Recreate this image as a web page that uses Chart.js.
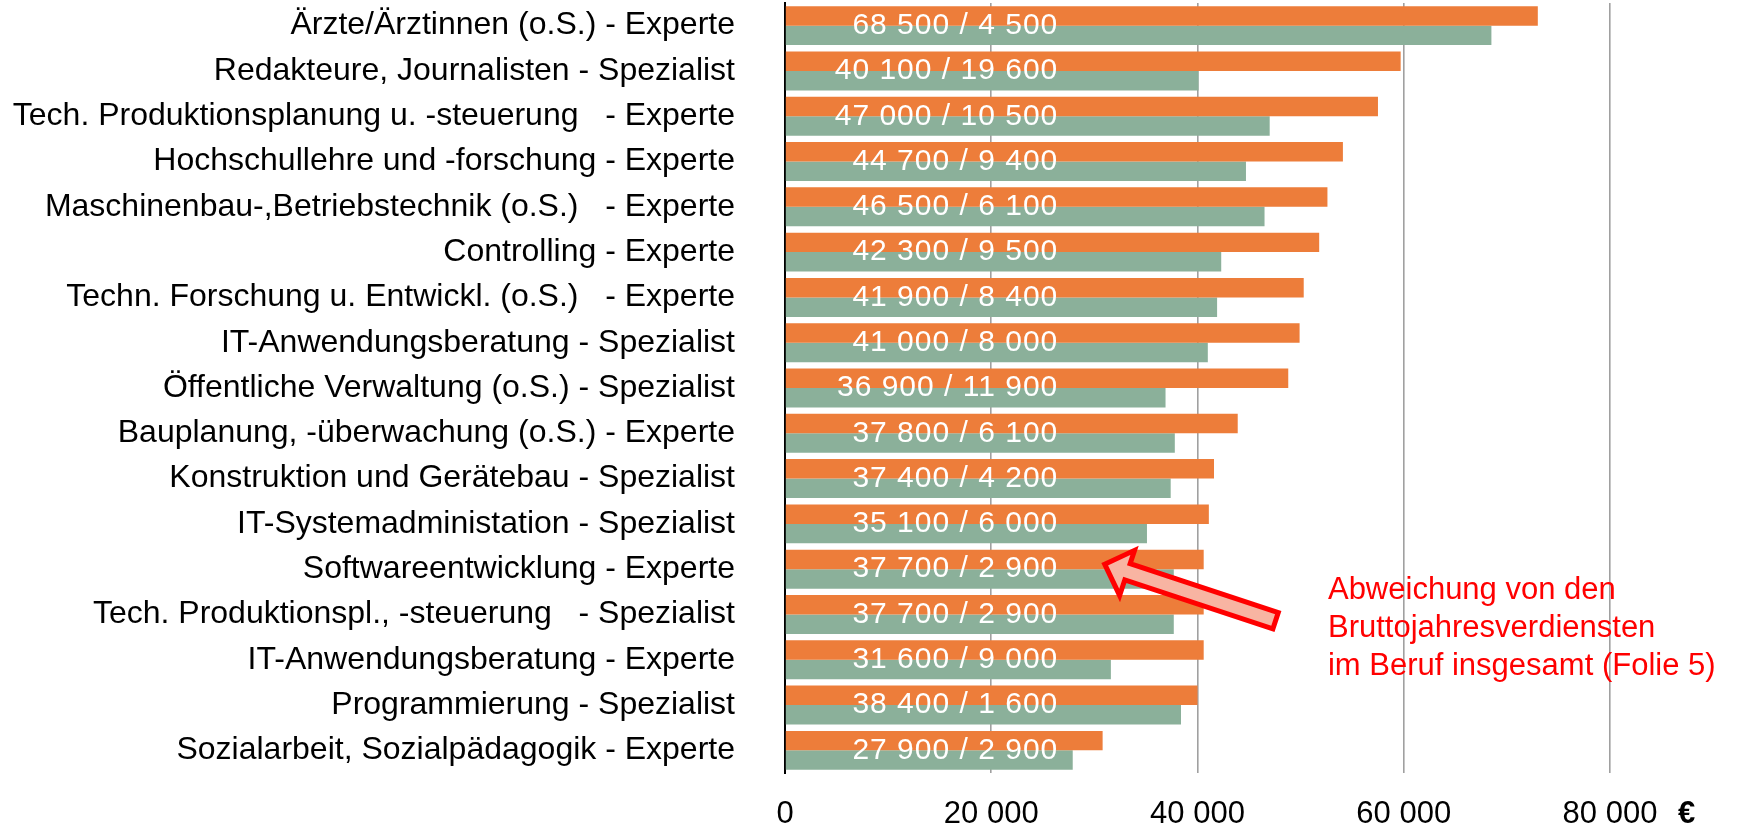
<!DOCTYPE html>
<html>
<head>
<meta charset="utf-8">
<script src="https://cdn.jsdelivr.net/npm/chart.js@4.4.1/dist/chart.umd.min.js"></script>
<style>
  html, body { margin: 0; padding: 0; background: #ffffff; }
  #wrap { width: 1737px; height: 825px; position: relative; }
</style>
</head>
<body>
<div id="wrap"><canvas id="c" width="1737" height="825"></canvas></div>
<script>
// ---- Data ----
const categories = [
  "Ärzte/Ärztinnen (o.S.) - Experte",
  "Redakteure, Journalisten - Spezialist",
  "Tech. Produktionsplanung u. -steuerung   - Experte",
  "Hochschullehre und -forschung - Experte",
  "Maschinenbau-,Betriebstechnik (o.S.)   - Experte",
  "Controlling - Experte",
  "Techn. Forschung u. Entwickl. (o.S.)   - Experte",
  "IT-Anwendungsberatung - Spezialist",
  "Öffentliche Verwaltung (o.S.) - Spezialist",
  "Bauplanung, -überwachung (o.S.) - Experte",
  "Konstruktion und Gerätebau - Spezialist",
  "IT-Systemadministation - Spezialist",
  "Softwareentwicklung - Experte",
  "Tech. Produktionspl., -steuerung   - Spezialist",
  "IT-Anwendungsberatung - Experte",
  "Programmierung - Spezialist",
  "Sozialarbeit, Sozialpädagogik - Experte"
];
const orangeValues = [73000, 59700, 57500, 54100, 52600, 51800, 50300, 49900, 48800, 43900, 41600, 41100, 40600, 40600, 40600, 40000, 30800];
const greenValues  = [68500, 40100, 47000, 44700, 46500, 42300, 41900, 41000, 36900, 37800, 37400, 35100, 37700, 37700, 31600, 38400, 27900];
const deviations   = [4500, 19600, 10500, 9400, 6100, 9500, 8400, 8000, 11900, 6100, 4200, 6000, 2900, 2900, 9000, 1600, 2900];
const xTickValues  = [0, 20000, 40000, 60000, 80000];
const annotationLines = ["Abweichung von den", "Bruttojahresverdiensten", "im Beruf insgesamt (Folie 5)"];
const currencyLabel = "€";

function fmt(v) { return String(v).replace(/\B(?=(\d{3})+(?!\d))/g, " "); }
const barLabels = greenValues.map((g, i) => fmt(g) + " / " + fmt(deviations[i]));

const FONT = '"Liberation Sans", Arial, sans-serif';
const LABEL_SPACING = 1;
const X_TICK_PAD = 23;

const overlay = {
  id: 'overlay',
  afterDatasetsDraw(chart) {
    const { ctx, scales: { x, y } } = chart;
    // Bar value labels
    ctx.save();
    ctx.font = '30px ' + FONT;
    ctx.fillStyle = '#ffffff';
    ctx.textAlign = 'right';
    ctx.textBaseline = 'middle';
    try { ctx.letterSpacing = LABEL_SPACING + 'px'; } catch (e) {}
    const xr = x.getPixelForValue(26400) + LABEL_SPACING;
    barLabels.forEach((t, i) => ctx.fillText(t, xr, y.getPixelForValue(i)));
    ctx.restore();

    // Block arrow
    ctx.save();
    const tipX = x.getPixelForValue(31000);
    const tipY = y.getPixelForValue(12) - 5;
    ctx.translate(tipX, tipY);
    ctx.rotate(Math.atan2(0.3141, 0.9494));
    ctx.beginPath();
    ctx.moveTo(0, 0);
    ctx.lineTo(24, -22.5);
    ctx.lineTo(24, -8.5);
    ctx.lineTo(180, -8.5);
    ctx.lineTo(180, 8.5);
    ctx.lineTo(24, 8.5);
    ctx.lineTo(24, 25);
    ctx.closePath();
    ctx.fillStyle = '#F8B4A2';
    ctx.fill();
    ctx.lineJoin = 'miter';
    ctx.lineWidth = 5;
    ctx.strokeStyle = '#FF0000';
    ctx.stroke();
    ctx.restore();
  },
  afterDraw(chart) {
    const { ctx, scales: { x, y } } = chart;
    ctx.save();
    ctx.fillStyle = '#FF0000';
    ctx.font = '31px ' + FONT;
    ctx.textAlign = 'left';
    ctx.textBaseline = 'alphabetic';
    const ax = x.getPixelForValue(52650);
    const ay = y.getPixelForValue(13);
    annotationLines.forEach((t, i) => ctx.fillText(t, ax, ay - 15.5 + i * 38));
    // currency sign next to the last tick label
    ctx.fillStyle = '#000000';
    ctx.font = 'bold 31px ' + FONT;
    ctx.textBaseline = 'middle';
    ctx.fillText(currencyLabel, x.getPixelForValue(80000) + 68, x.top + X_TICK_PAD + 18.6);
    ctx.restore();
  }
};

new Chart(document.getElementById('c'), {
  type: 'bar',
  data: {
    labels: categories,
    datasets: [
      { label: 'Abweichung', data: orangeValues, backgroundColor: '#ED7D3A', borderWidth: 0,
        categoryPercentage: 0.86, barPercentage: 1.0 },
      { label: 'Verdienst', data: greenValues, backgroundColor: '#8BB09A', borderWidth: 0,
        categoryPercentage: 0.86, barPercentage: 1.0 }
    ]
  },
  options: {
    indexAxis: 'y',
    responsive: false,
    animation: false,
    devicePixelRatio: 1,
    layout: { padding: { top: 3, right: 127, left: 0, bottom: 0 } },
    plugins: { legend: { display: false }, tooltip: { enabled: false } },
    scales: {
      x: {
        type: 'linear',
        min: 0, max: 80000,
        afterBuildTicks(scale) { scale.ticks = xTickValues.map(v => ({ value: v })); },
        afterFit(scale) { scale.height = 52; scale.paddingLeft = 0; scale.paddingRight = 0; },
        ticks: {
          padding: X_TICK_PAD,
          color: '#000000',
          font: { family: FONT, size: 31 },
          callback: (v) => fmt(v),
          maxRotation: 0, autoSkip: false
        },
        grid: {
          drawTicks: false,
          color: (c) => c.index === 0 ? 'rgba(0,0,0,0)' : '#A0A0A0',
          lineWidth: 1.6
        },
        border: { display: false }
      },
      y: {
        afterFit(scale) { scale.width = 785; scale.paddingTop = 0; scale.paddingBottom = 0; },
        ticks: {
          padding: 50,
          color: '#000000',
          font: { family: FONT, size: 32 },
          autoSkip: false
        },
        grid: { display: false, drawTicks: false },
        border: { display: true, color: '#000000', width: 2 }
      }
    }
  },
  plugins: [overlay]
});
</script>
</body>
</html>
